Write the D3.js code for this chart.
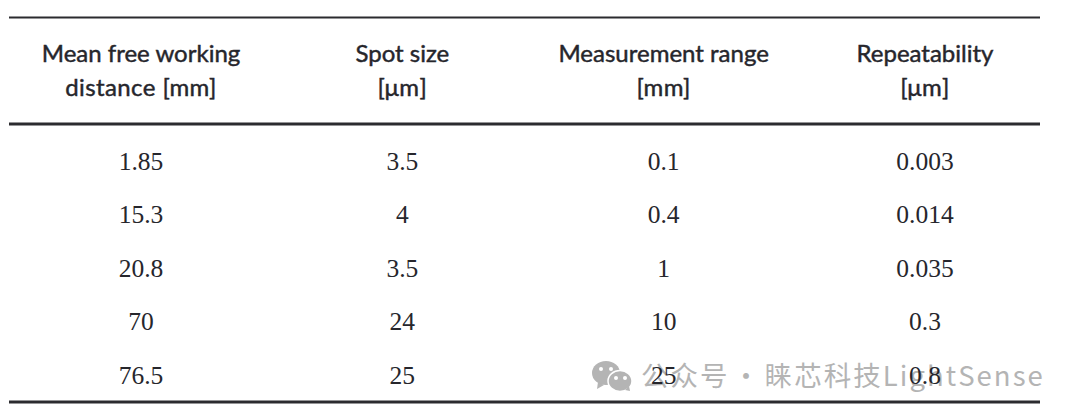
<!DOCTYPE html>
<html><head><meta charset="utf-8">
<script src="https://cdn.jsdelivr.net/npm/d3@7/dist/d3.min.js"></script>
<style>html,body{margin:0;padding:0;background:#fff}svg{display:block}</style>
</head><body><svg id="c" width="1080" height="419"></svg>
<script>
const headerLine1 = ["Mean free working","Spot size","Measurement range","Repeatability"];
const headerLine2 = ["distance [mm]","[μm]","[mm]","[μm]"];
const distance = ["1.85","15.3","20.8","70","76.5"];
const spot = ["3.5","4","3.5","24","25"];
const range = ["0.1","0.4","1","10","25"];
const repeatability = ["0.003","0.014","0.035","0.3","0.8"];
const columns = [distance, spot, range, repeatability];
const rowIndex = [0,1,2,3,4];
const colIndex = [0,1,2,3];

const svg = d3.select("#c");
const x = d3.scalePoint().domain(colIndex).range([141,925]);
const y = d3.scalePoint().domain(rowIndex).range([161,375]);

// watermark under the table text
const wm = svg.append("g").attr("fill","#b4b4b4");
wm.append("ellipse").attr("cx",606).attr("cy",373).attr("rx",14).attr("ry",12);
wm.append("path").attr("d","M598 382l-1 7 7-4z");
wm.append("ellipse").attr("cx",620).attr("cy",381).attr("rx",12).attr("ry",10.5).attr("stroke","#fff").attr("stroke-width",1.5);
wm.append("path").attr("d","M625 390l5 1-1-5z");
wm.selectAll("circle.a").data([[601,369],[611,369],[616,378],[625,378]]).join("circle")
  .attr("cx",d=>d[0]).attr("cy",d=>d[1]).attr("r",2).attr("fill","#fff");
svg.append("text").attr("x",641).attr("y",386).attr("font-family","'Noto Sans CJK SC','Noto Sans'")
  .attr("font-size",27.5).attr("letter-spacing",2.05).attr("word-spacing",-5.5).attr("fill","#b4b4b4").text("公众号 · 睐芯科技LightSense");

// rules
const rules = [{y:17.5,w:2},{y:124,w:3},{y:402,w:3}];
svg.selectAll("line.r").data(rules).join("line").attr("class","r")
  .attr("x1",9).attr("x2",1040).attr("y1",d=>d.y).attr("y2",d=>d.y)
  .attr("stroke","#2b2b2f").attr("stroke-width",d=>d.w);

// header
const head = svg.append("g").attr("font-family","Lato").attr("font-size",24)
  .attr("fill","#26262c").attr("stroke","#26262c").attr("stroke-width",0.45).attr("text-anchor","middle");
head.selectAll("text.a").data(colIndex).join("text").attr("class","a")
  .attr("x",d=>x(d)).attr("y",62).text(d=>headerLine1[d]);
head.selectAll("text.b").data(colIndex).join("text").attr("class","b")
  .attr("x",d=>x(d)).attr("y",96).attr("letter-spacing",0.4).text(d=>headerLine2[d]);

// body
const body = svg.append("g").attr("font-family","'Liberation Serif'").attr("font-size",25.5)
  .attr("fill","#26262c").attr("text-anchor","middle");
colIndex.forEach(c=>{
  body.selectAll("text.c"+c).data(rowIndex).join("text").attr("class","c"+c)
    .attr("x",x(c)).attr("y",r=>y(r)+8.5).text(r=>columns[c][r]);
});
</script></body></html>
